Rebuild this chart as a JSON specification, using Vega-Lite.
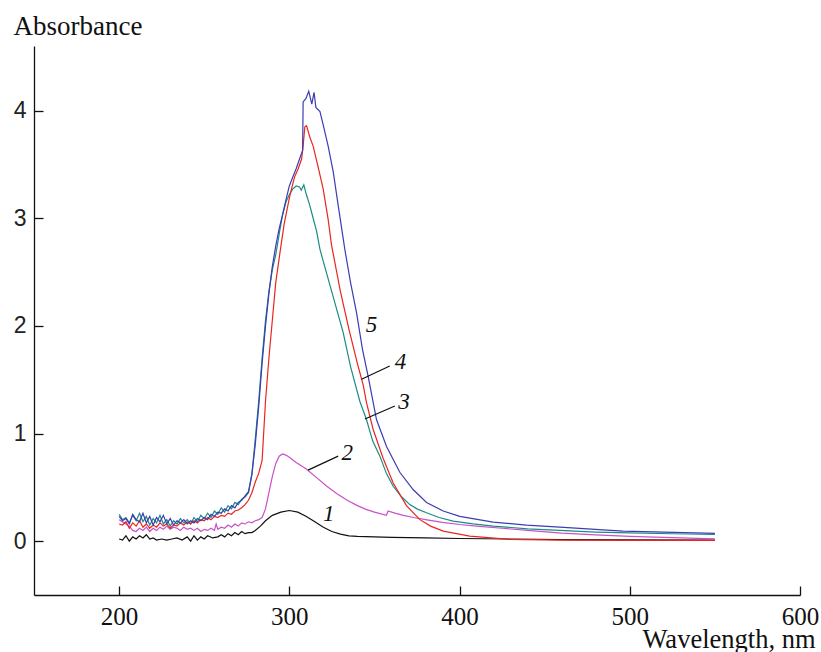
{
  "$schema": "https://vega.github.io/schema/vega-lite/v6.json",
  "width": 766,
  "height": 549,
  "autosize": "none",
  "padding": {"left": 34, "top": 46, "right": 21, "bottom": 57},
  "background": "white",
  "config": {"view": {"stroke": null}},
  "datasets": {
    "curves": [
      {"s":"1","x":200,"y":0.02},{"s":"1","x":202,"y":0.01},{"s":"1","x":204,"y":0.05},{"s":"1","x":206,"y":0.0},{"s":"1","x":208,"y":0.04},{"s":"1","x":210,"y":0.02},{"s":"1","x":212,"y":0.05},{"s":"1","x":214,"y":0.03},{"s":"1","x":216,"y":0.06},{"s":"1","x":218,"y":0.02},{"s":"1","x":220,"y":0.03},{"s":"1","x":222,"y":0.01},{"s":"1","x":225,"y":0.02},{"s":"1","x":228,"y":0.01},{"s":"1","x":231,"y":0.02},{"s":"1","x":234,"y":0.03},{"s":"1","x":237,"y":0.01},{"s":"1","x":240,"y":0.04},{"s":"1","x":242,"y":0.0},{"s":"1","x":244,"y":0.05},{"s":"1","x":246,"y":0.01},{"s":"1","x":248,"y":0.04},{"s":"1","x":250,"y":0.02},{"s":"1","x":252,"y":0.05},{"s":"1","x":255,"y":0.03},{"s":"1","x":258,"y":0.04},{"s":"1","x":260,"y":0.06},{"s":"1","x":262,"y":0.04},{"s":"1","x":264,"y":0.07},{"s":"1","x":266,"y":0.05},{"s":"1","x":268,"y":0.08},{"s":"1","x":270,"y":0.06},{"s":"1","x":272,"y":0.09},{"s":"1","x":274,"y":0.07},{"s":"1","x":276,"y":0.08},{"s":"1","x":278,"y":0.08},{"s":"1","x":280,"y":0.1},{"s":"1","x":283,"y":0.14},{"s":"1","x":286,"y":0.19},{"s":"1","x":290,"y":0.24},{"s":"1","x":295,"y":0.27},{"s":"1","x":300,"y":0.285},{"s":"1","x":305,"y":0.27},{"s":"1","x":310,"y":0.23},{"s":"1","x":315,"y":0.18},{"s":"1","x":320,"y":0.13},{"s":"1","x":325,"y":0.09},{"s":"1","x":330,"y":0.065},{"s":"1","x":335,"y":0.05},{"s":"1","x":340,"y":0.045},{"s":"1","x":350,"y":0.04},{"s":"1","x":360,"y":0.035},{"s":"1","x":380,"y":0.03},{"s":"1","x":400,"y":0.025},{"s":"1","x":430,"y":0.02},{"s":"1","x":460,"y":0.015},{"s":"1","x":500,"y":0.012},{"s":"1","x":550,"y":0.01},

      {"s":"2","x":200,"y":0.2},{"s":"2","x":203,"y":0.17},{"s":"2","x":206,"y":0.14},{"s":"2","x":208,"y":0.1},{"s":"2","x":210,"y":0.09},{"s":"2","x":212,"y":0.12},{"s":"2","x":214,"y":0.1},{"s":"2","x":216,"y":0.13},{"s":"2","x":218,"y":0.09},{"s":"2","x":220,"y":0.12},{"s":"2","x":222,"y":0.1},{"s":"2","x":224,"y":0.13},{"s":"2","x":226,"y":0.11},{"s":"2","x":228,"y":0.14},{"s":"2","x":230,"y":0.11},{"s":"2","x":232,"y":0.13},{"s":"2","x":234,"y":0.12},{"s":"2","x":236,"y":0.1},{"s":"2","x":238,"y":0.13},{"s":"2","x":240,"y":0.11},{"s":"2","x":242,"y":0.12},{"s":"2","x":244,"y":0.1},{"s":"2","x":246,"y":0.12},{"s":"2","x":248,"y":0.09},{"s":"2","x":250,"y":0.11},{"s":"2","x":252,"y":0.1},{"s":"2","x":254,"y":0.12},{"s":"2","x":256,"y":0.1},{"s":"2","x":257,"y":0.16},{"s":"2","x":258,"y":0.11},{"s":"2","x":260,"y":0.13},{"s":"2","x":262,"y":0.12},{"s":"2","x":264,"y":0.15},{"s":"2","x":266,"y":0.13},{"s":"2","x":268,"y":0.16},{"s":"2","x":270,"y":0.14},{"s":"2","x":272,"y":0.17},{"s":"2","x":274,"y":0.16},{"s":"2","x":276,"y":0.18},{"s":"2","x":278,"y":0.17},{"s":"2","x":280,"y":0.19},{"s":"2","x":282,"y":0.2},{"s":"2","x":284,"y":0.22},{"s":"2","x":286,"y":0.3},{"s":"2","x":288,"y":0.45},{"s":"2","x":290,"y":0.6},{"s":"2","x":292,"y":0.72},{"s":"2","x":294,"y":0.79},{"s":"2","x":296,"y":0.81},{"s":"2","x":298,"y":0.8},{"s":"2","x":300,"y":0.78},{"s":"2","x":304,"y":0.73},{"s":"2","x":310,"y":0.67},{"s":"2","x":316,"y":0.59},{"s":"2","x":322,"y":0.51},{"s":"2","x":328,"y":0.44},{"s":"2","x":334,"y":0.38},{"s":"2","x":340,"y":0.33},{"s":"2","x":345,"y":0.295},{"s":"2","x":350,"y":0.27},{"s":"2","x":357,"y":0.24},{"s":"2","x":358,"y":0.28},{"s":"2","x":362,"y":0.26},{"s":"2","x":367,"y":0.24},{"s":"2","x":373,"y":0.22},{"s":"2","x":380,"y":0.2},{"s":"2","x":390,"y":0.175},{"s":"2","x":400,"y":0.155},{"s":"2","x":410,"y":0.14},{"s":"2","x":425,"y":0.12},{"s":"2","x":440,"y":0.1},{"s":"2","x":460,"y":0.075},{"s":"2","x":480,"y":0.058},{"s":"2","x":500,"y":0.045},{"s":"2","x":525,"y":0.033},{"s":"2","x":550,"y":0.022},

      {"s":"3","x":200,"y":0.25},{"s":"3","x":202,"y":0.2},{"s":"3","x":204,"y":0.22},{"s":"3","x":206,"y":0.17},{"s":"3","x":208,"y":0.24},{"s":"3","x":210,"y":0.19},{"s":"3","x":212,"y":0.26},{"s":"3","x":214,"y":0.18},{"s":"3","x":216,"y":0.23},{"s":"3","x":218,"y":0.15},{"s":"3","x":220,"y":0.21},{"s":"3","x":222,"y":0.17},{"s":"3","x":224,"y":0.24},{"s":"3","x":226,"y":0.16},{"s":"3","x":228,"y":0.2},{"s":"3","x":230,"y":0.14},{"s":"3","x":232,"y":0.19},{"s":"3","x":234,"y":0.16},{"s":"3","x":236,"y":0.21},{"s":"3","x":238,"y":0.17},{"s":"3","x":240,"y":0.2},{"s":"3","x":242,"y":0.16},{"s":"3","x":244,"y":0.22},{"s":"3","x":246,"y":0.18},{"s":"3","x":248,"y":0.24},{"s":"3","x":250,"y":0.21},{"s":"3","x":252,"y":0.26},{"s":"3","x":254,"y":0.22},{"s":"3","x":256,"y":0.28},{"s":"3","x":258,"y":0.25},{"s":"3","x":260,"y":0.31},{"s":"3","x":262,"y":0.27},{"s":"3","x":264,"y":0.33},{"s":"3","x":266,"y":0.3},{"s":"3","x":268,"y":0.36},{"s":"3","x":270,"y":0.34},{"s":"3","x":272,"y":0.39},{"s":"3","x":274,"y":0.41},{"s":"3","x":276,"y":0.45},{"s":"3","x":278,"y":0.62},{"s":"3","x":280,"y":0.95},{"s":"3","x":282,"y":1.3},{"s":"3","x":284,"y":1.7},{"s":"3","x":286,"y":2.05},{"s":"3","x":288,"y":2.32},{"s":"3","x":290,"y":2.52},{"s":"3","x":292,"y":2.66},{"s":"3","x":294,"y":2.85},{"s":"3","x":296,"y":3.03},{"s":"3","x":298,"y":3.15},{"s":"3","x":300,"y":3.22},{"s":"3","x":302,"y":3.27},{"s":"3","x":304,"y":3.3},{"s":"3","x":306,"y":3.29},{"s":"3","x":307,"y":3.26},{"s":"3","x":308.5,"y":3.31},{"s":"3","x":310,"y":3.22},{"s":"3","x":312,"y":3.12},{"s":"3","x":314,"y":3.0},{"s":"3","x":316,"y":2.88},{"s":"3","x":318,"y":2.71},{"s":"3","x":324,"y":2.37},{"s":"3","x":331.6,"y":1.94},{"s":"3","x":336,"y":1.62},{"s":"3","x":341.4,"y":1.3},{"s":"3","x":345.3,"y":1.13},{"s":"3","x":349,"y":0.93},{"s":"3","x":353.2,"y":0.79},{"s":"3","x":357,"y":0.63},{"s":"3","x":361,"y":0.51},{"s":"3","x":366,"y":0.41},{"s":"3","x":370.8,"y":0.34},{"s":"3","x":375,"y":0.3},{"s":"3","x":380.6,"y":0.264},{"s":"3","x":388,"y":0.22},{"s":"3","x":396.2,"y":0.186},{"s":"3","x":408,"y":0.16},{"s":"3","x":419.7,"y":0.14},{"s":"3","x":440,"y":0.115},{"s":"3","x":458.9,"y":0.1},{"s":"3","x":480,"y":0.085},{"s":"3","x":500,"y":0.077},{"s":"3","x":525,"y":0.069},{"s":"3","x":550,"y":0.062},

      {"s":"4","x":200,"y":0.16},{"s":"4","x":202,"y":0.15},{"s":"4","x":204,"y":0.18},{"s":"4","x":206,"y":0.12},{"s":"4","x":208,"y":0.17},{"s":"4","x":210,"y":0.14},{"s":"4","x":212,"y":0.19},{"s":"4","x":214,"y":0.13},{"s":"4","x":216,"y":0.16},{"s":"4","x":218,"y":0.12},{"s":"4","x":220,"y":0.15},{"s":"4","x":222,"y":0.13},{"s":"4","x":224,"y":0.17},{"s":"4","x":226,"y":0.14},{"s":"4","x":228,"y":0.16},{"s":"4","x":230,"y":0.12},{"s":"4","x":232,"y":0.15},{"s":"4","x":234,"y":0.14},{"s":"4","x":236,"y":0.17},{"s":"4","x":238,"y":0.15},{"s":"4","x":240,"y":0.18},{"s":"4","x":242,"y":0.16},{"s":"4","x":244,"y":0.19},{"s":"4","x":246,"y":0.17},{"s":"4","x":248,"y":0.2},{"s":"4","x":250,"y":0.19},{"s":"4","x":252,"y":0.22},{"s":"4","x":254,"y":0.2},{"s":"4","x":256,"y":0.23},{"s":"4","x":258,"y":0.22},{"s":"4","x":260,"y":0.24},{"s":"4","x":262,"y":0.23},{"s":"4","x":264,"y":0.26},{"s":"4","x":266,"y":0.25},{"s":"4","x":268,"y":0.28},{"s":"4","x":270,"y":0.29},{"s":"4","x":272,"y":0.31},{"s":"4","x":274,"y":0.34},{"s":"4","x":276,"y":0.38},{"s":"4","x":278,"y":0.45},{"s":"4","x":280,"y":0.55},{"s":"4","x":282,"y":0.63},{"s":"4","x":284,"y":0.75},{"s":"4","x":286,"y":1.3},{"s":"4","x":288,"y":1.7},{"s":"4","x":290,"y":2.05},{"s":"4","x":292,"y":2.4},{"s":"4","x":294.5,"y":2.68},{"s":"4","x":297,"y":2.95},{"s":"4","x":300.3,"y":3.21},{"s":"4","x":303,"y":3.38},{"s":"4","x":305.2,"y":3.46},{"s":"4","x":307.2,"y":3.55},{"s":"4","x":308.1,"y":3.67},{"s":"4","x":309.1,"y":3.85},{"s":"4","x":310.1,"y":3.86},{"s":"4","x":312.1,"y":3.75},{"s":"4","x":314,"y":3.67},{"s":"4","x":317,"y":3.47},{"s":"4","x":319.9,"y":3.27},{"s":"4","x":322.8,"y":2.99},{"s":"4","x":324.8,"y":2.75},{"s":"4","x":330,"y":2.32},{"s":"4","x":335,"y":1.97},{"s":"4","x":340,"y":1.65},{"s":"4","x":343.4,"y":1.45},{"s":"4","x":345.3,"y":1.29},{"s":"4","x":349.2,"y":1.04},{"s":"4","x":355.1,"y":0.77},{"s":"4","x":361,"y":0.54},{"s":"4","x":368.8,"y":0.33},{"s":"4","x":376.7,"y":0.2},{"s":"4","x":383,"y":0.14},{"s":"4","x":390.4,"y":0.093},{"s":"4","x":406,"y":0.047},{"s":"4","x":429.5,"y":0.016},{"s":"4","x":460,"y":0.01},{"s":"4","x":500,"y":0.008},{"s":"4","x":550,"y":0.008},

      {"s":"5","x":200,"y":0.23},{"s":"5","x":202,"y":0.19},{"s":"5","x":204,"y":0.21},{"s":"5","x":206,"y":0.16},{"s":"5","x":208,"y":0.25},{"s":"5","x":210,"y":0.2},{"s":"5","x":212,"y":0.18},{"s":"5","x":214,"y":0.26},{"s":"5","x":216,"y":0.17},{"s":"5","x":218,"y":0.23},{"s":"5","x":220,"y":0.15},{"s":"5","x":222,"y":0.22},{"s":"5","x":224,"y":0.18},{"s":"5","x":226,"y":0.24},{"s":"5","x":228,"y":0.16},{"s":"5","x":230,"y":0.21},{"s":"5","x":232,"y":0.15},{"s":"5","x":234,"y":0.19},{"s":"5","x":236,"y":0.17},{"s":"5","x":238,"y":0.2},{"s":"5","x":240,"y":0.16},{"s":"5","x":242,"y":0.19},{"s":"5","x":244,"y":0.17},{"s":"5","x":246,"y":0.21},{"s":"5","x":248,"y":0.19},{"s":"5","x":250,"y":0.22},{"s":"5","x":252,"y":0.2},{"s":"5","x":254,"y":0.25},{"s":"5","x":256,"y":0.23},{"s":"5","x":258,"y":0.27},{"s":"5","x":260,"y":0.26},{"s":"5","x":262,"y":0.3},{"s":"5","x":264,"y":0.28},{"s":"5","x":266,"y":0.33},{"s":"5","x":268,"y":0.31},{"s":"5","x":270,"y":0.36},{"s":"5","x":272,"y":0.38},{"s":"5","x":274,"y":0.42},{"s":"5","x":276,"y":0.46},{"s":"5","x":278,"y":0.62},{"s":"5","x":280,"y":0.9},{"s":"5","x":282,"y":1.25},{"s":"5","x":284,"y":1.65},{"s":"5","x":286,"y":2.0},{"s":"5","x":288,"y":2.3},{"s":"5","x":290,"y":2.55},{"s":"5","x":292,"y":2.74},{"s":"5","x":294,"y":2.9},{"s":"5","x":296,"y":3.03},{"s":"5","x":298,"y":3.17},{"s":"5","x":300,"y":3.3},{"s":"5","x":302,"y":3.38},{"s":"5","x":304,"y":3.46},{"s":"5","x":306,"y":3.55},{"s":"5","x":307.8,"y":3.63},{"s":"5","x":308.1,"y":4.08},{"s":"5","x":309.7,"y":4.11},{"s":"5","x":311.4,"y":4.18},{"s":"5","x":313.2,"y":4.06},{"s":"5","x":314.5,"y":4.17},{"s":"5","x":315.6,"y":4.03},{"s":"5","x":318,"y":3.99},{"s":"5","x":320,"y":3.86},{"s":"5","x":322.8,"y":3.67},{"s":"5","x":325.8,"y":3.43},{"s":"5","x":328.7,"y":3.12},{"s":"5","x":332.6,"y":2.71},{"s":"5","x":336,"y":2.4},{"s":"5","x":339.5,"y":2.12},{"s":"5","x":343,"y":1.78},{"s":"5","x":346.3,"y":1.53},{"s":"5","x":351.2,"y":1.13},{"s":"5","x":357.1,"y":0.88},{"s":"5","x":364.9,"y":0.64},{"s":"5","x":372.7,"y":0.48},{"s":"5","x":380.6,"y":0.36},{"s":"5","x":390.4,"y":0.28},{"s":"5","x":400.1,"y":0.23},{"s":"5","x":419.7,"y":0.177},{"s":"5","x":439.3,"y":0.149},{"s":"5","x":458.9,"y":0.13},{"s":"5","x":496,"y":0.093},{"s":"5","x":550,"y":0.072}
    ],
    "labels": [
      {"n":"1","x":323.2,"y":0.251},
      {"n":"2","x":334,"y":0.819},
      {"n":"3","x":367.3,"y":1.293},
      {"n":"4","x":365.3,"y":1.665},
      {"n":"5","x":348.3,"y":2.01}
    ],
    "leaders": [
      {"x":342.4,"y":1.504,"x2":359,"y2":1.628},
      {"x":344.4,"y":1.135,"x2":362,"y2":1.256},
      {"x":311,"y":0.66,"x2":328.7,"y2":0.79}
    ]
  },
  "layer": [
    {
      "data": {"name": "curves"},
      "mark": {"type": "line", "strokeWidth": 1.2, "clip": true},
      "encoding": {
        "x": {
          "field": "x", "type": "quantitative",
          "scale": {"domain": [150, 600], "nice": false, "zero": false},
          "axis": {
            "values": [200, 300, 400, 500, 600],
            "title": "Wavelength, nm",
            "titleFont": "Liberation Serif", "titleFontSize": 26.5, "titleFontWeight": "normal", "titleColor": "#111",
            "titleAnchor": null, "titleAlign": "right", "titleBaseline": "alphabetic",
            "titleX": 781, "titleY": 52,
            "labelFont": "Liberation Serif", "labelFontSize": 25, "labelColor": "#111",
            "labelPadding": 18, "tickSize": -9, "tickColor": "#111", "tickWidth": 1.3,
            "domainColor": "#111", "domainWidth": 1.3, "grid": false, "labelFlush": false
          }
        },
        "y": {
          "field": "y", "type": "quantitative",
          "scale": {"domain": [-0.5, 4.6], "nice": false, "zero": false},
          "axis": {
            "values": [0, 1, 2, 3, 4],
            "format": "d",
            "title": "Absorbance",
            "titleFont": "Liberation Serif", "titleFontSize": 27, "titleFontWeight": "normal", "titleColor": "#111",
            "titleAngle": 0, "titleAnchor": null, "titleAlign": "left", "titleBaseline": "alphabetic",
            "titleX": -21, "titleY": -12,
            "labelFont": "Liberation Sans", "labelFontSize": 23, "labelColor": "#222",
            "labelPadding": 17, "tickSize": -9, "tickColor": "#111", "tickWidth": 1.3,
            "domainColor": "#111", "domainWidth": 1.3, "grid": false, "labelFlush": false
          }
        },
        "color": {
          "field": "s", "type": "nominal",
          "scale": {"domain": ["1","2","3","4","5"], "range": ["#111111","#c850c8","#1a8c84","#e8261e","#3c3cb4"]},
          "legend": null
        }
      }
    },
    {
      "data": {"name": "leaders"},
      "mark": {"type": "rule", "color": "#111", "strokeWidth": 1.2},
      "encoding": {
        "x": {"field": "x", "type": "quantitative"},
        "y": {"field": "y", "type": "quantitative"},
        "x2": {"field": "x2"},
        "y2": {"field": "y2"}
      }
    },
    {
      "data": {"name": "labels"},
      "mark": {"type": "text", "font": "Liberation Serif", "fontStyle": "italic", "fontSize": 23, "color": "#111", "align": "center", "baseline": "middle"},
      "encoding": {
        "x": {"field": "x", "type": "quantitative"},
        "y": {"field": "y", "type": "quantitative"},
        "text": {"field": "n"}
      }
    }
  ]
}
